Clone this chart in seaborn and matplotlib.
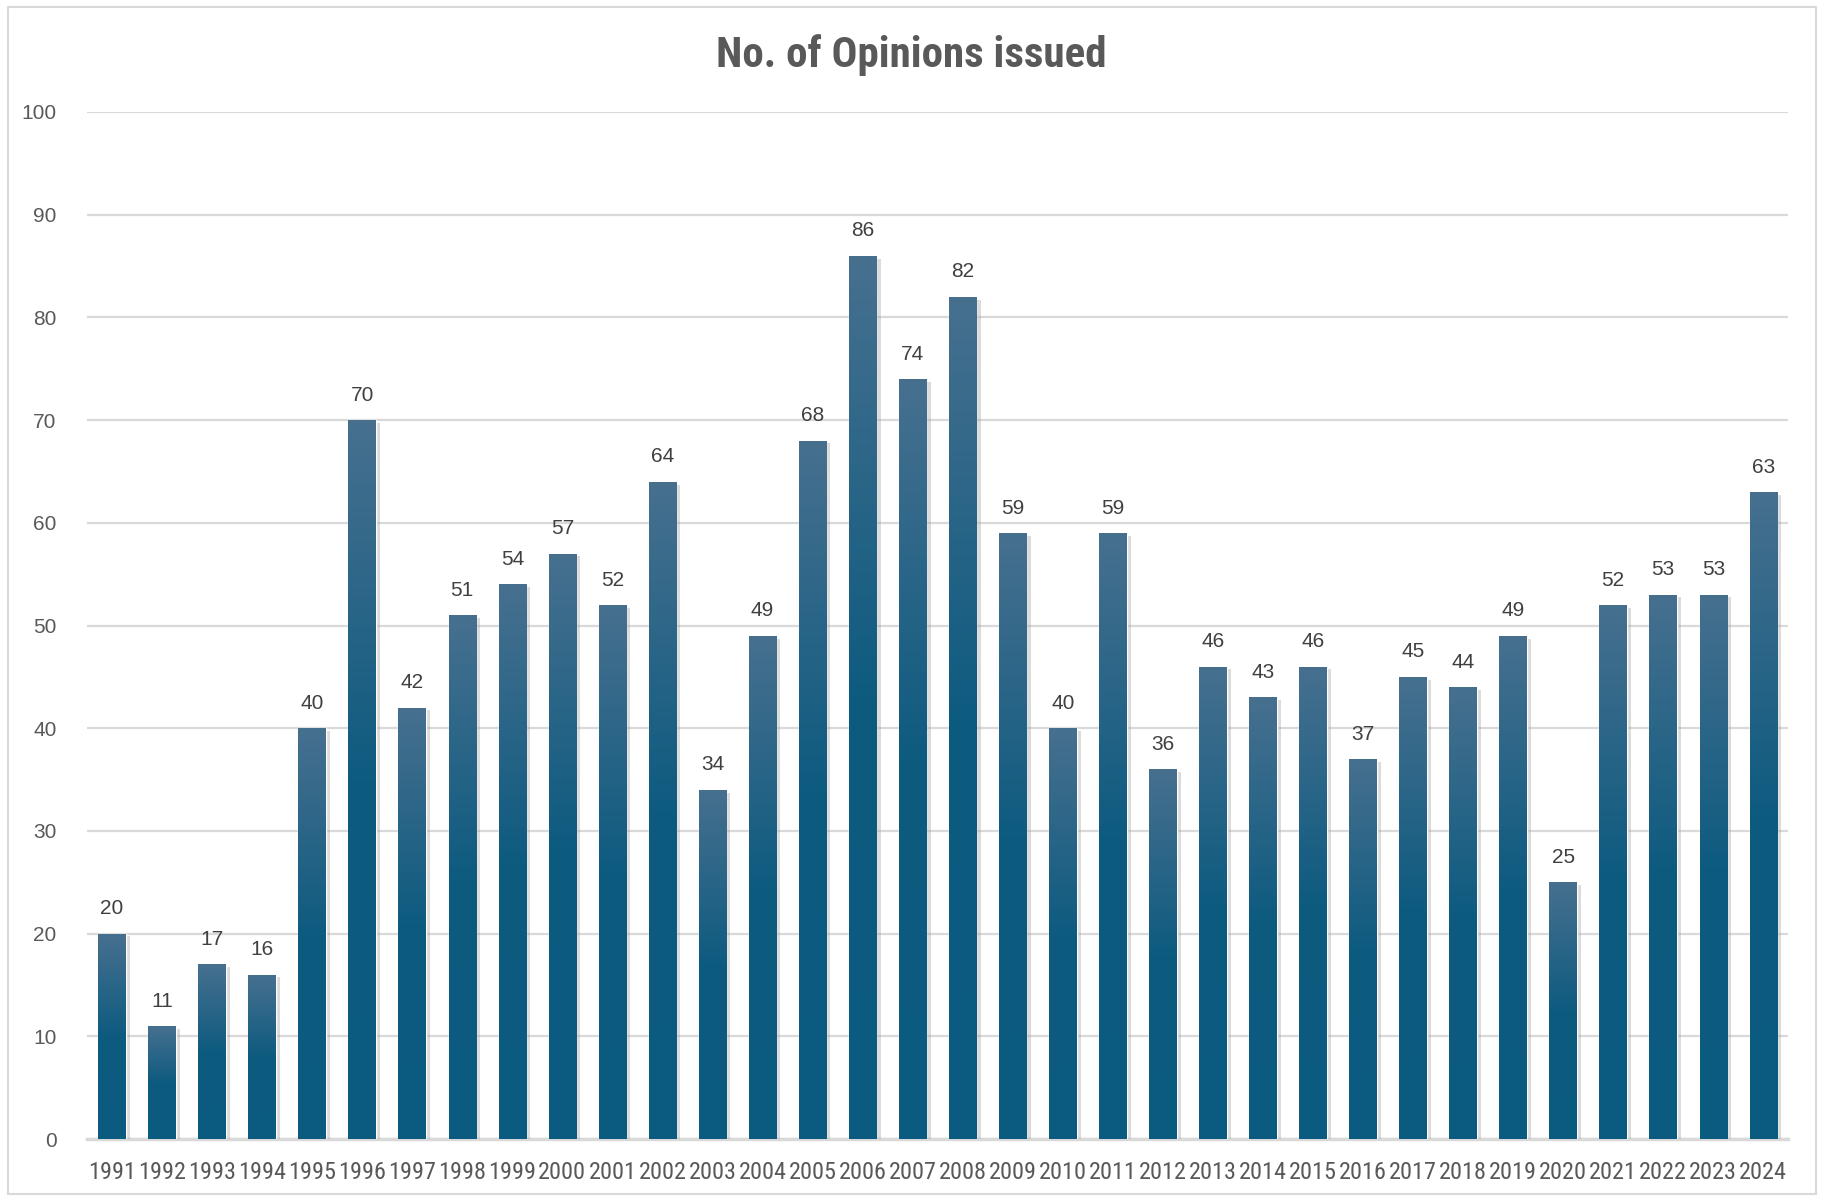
import numpy as np
import pandas as pd
import matplotlib
matplotlib.use('Agg')
import matplotlib.pyplot as plt
import matplotlib.patheffects as pe
from matplotlib import font_manager
from matplotlib.colors import LinearSegmentedColormap
import seaborn as sns

years = [str(y) for y in range(1991, 2025)]
opinions = [20, 11, 17, 16, 40, 70, 42, 51, 54, 57, 52, 64, 34, 49, 68, 86, 74, 82,
            59, 40, 59, 36, 46, 43, 46, 37, 45, 44, 49, 25, 52, 53, 53, 63]
title = 'No. of Opinions issued'

df = pd.DataFrame({'year': years, 'opinions': opinions})

# pick fonts that exist
names = {f.name for f in font_manager.fontManager.ttflist}
def first(*cands):
    for c in cands:
        if c in names:
            return c
    return 'DejaVu Sans'
narrow = first('Liberation Sans Narrow', 'Roboto Condensed', 'Liberation Sans')
body = first('Liberation Sans', 'Roboto')
head = first('Roboto Condensed', 'Liberation Sans Narrow', 'Roboto')

sns.set_theme(style='white')
plt.rcParams['font.family'] = [body, 'DejaVu Sans']

fig = plt.figure(figsize=(18.23, 11.99), dpi=100)
ax = fig.add_axes([0.0477, 0.050, 0.9333, 0.8566])

sns.barplot(data=df, x='year', y='opinions', color='#0e5a80', width=0.55,
            ax=ax, zorder=3)

# gradient fill clipped to each bar
cmap = LinearSegmentedColormap.from_list('bar', ['#0b5a7f', '#0e5b80', '#47708f'])
grad = np.linspace(0, 1, 256).reshape(-1, 1)
for p in ax.patches:
    x0, y0 = p.get_x(), p.get_y()
    w, h = p.get_width(), p.get_height()
    p.set_path_effects([pe.SimplePatchShadow(offset=(3, -2), shadow_rgbFace='#9a9a9a', alpha=0.35),
                        pe.Normal()])
    im = ax.imshow(grad, cmap=cmap, aspect='auto', origin='lower',
                   extent=[x0, x0 + w, y0, y0 + h], zorder=4)
    im.set_clip_path(p)
    ax.text(x0 + w / 2, y0 + h + 1.5, f'{int(h)}', ha='center', va='bottom',
            fontsize=15, color='#404040', zorder=5)

ax.set_xlim(-0.5, len(years) - 0.5)
ax.set_ylim(0, 100)
ax.set_yticks(range(0, 101, 10))
ax.yaxis.grid(True, color='#d9d9d9', linewidth=1.6, zorder=0)
ax.set_axisbelow(True)
ax.set_xlabel('')
ax.set_ylabel('')
for s in ['top', 'right', 'left']:
    ax.spines[s].set_visible(False)
ax.spines['bottom'].set_color('#d9d9d9')
ax.spines['bottom'].set_linewidth(2.5)
ax.tick_params(axis='y', length=0, pad=22, labelsize=15, labelcolor='#595959')
ax.tick_params(axis='x', length=0, pad=16, labelsize=17.5, labelcolor='#595959')
for lab in ax.get_xticklabels():
    lab.set_fontfamily([narrow, 'DejaVu Sans'])

fig.text(0.5, 0.9545, title, ha='center', va='center', fontsize=31,
         fontweight='bold', color='#595959', family=[head, 'DejaVu Sans'])

# chart frame
fig.patches.append(plt.Rectangle((0.0045, 0.004), 0.9915, 0.9905, transform=fig.transFigure,
                                 fill=False, edgecolor='#d9d9d9', linewidth=1.5))

fig.savefig('out.png', dpi=100, facecolor='white')
